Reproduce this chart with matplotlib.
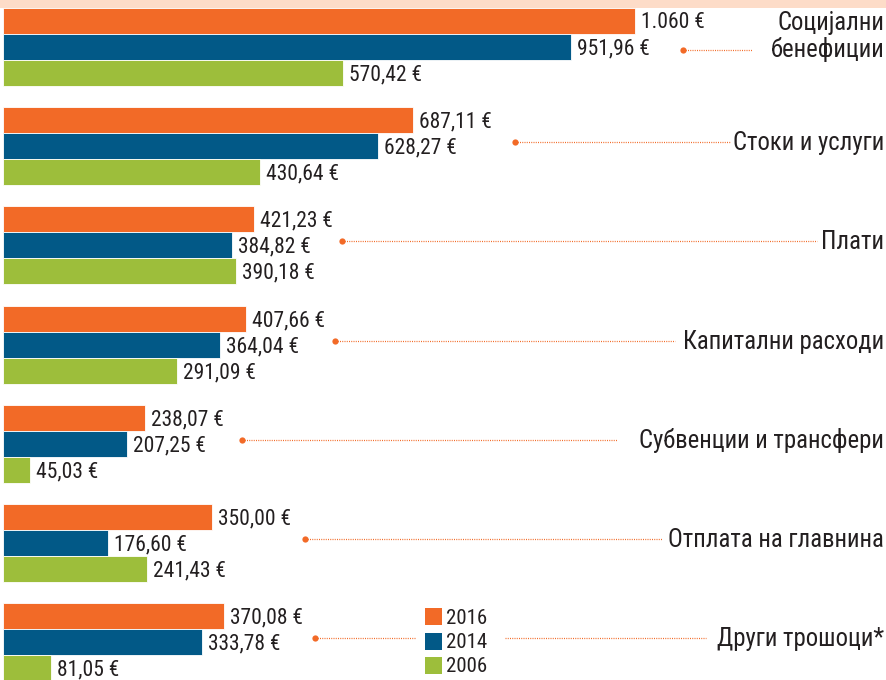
import matplotlib
matplotlib.use("Agg")
import matplotlib.pyplot as plt
from matplotlib.patches import Rectangle

# ── Data ─────────────────────────────────────────────────────────────────────
categories = ["Социјални\nбенефиции", "Стоки и услуги", "Плати", "Капитални расходи",
              "Субвенции и трансфери", "Отплата на главнина", "Други трошоци*"]
years = ["2016", "2014", "2006"]
values_2016 = [1060.00, 687.11, 421.23, 407.66, 238.07, 350.00, 370.08]
values_2014 = [951.96, 628.27, 384.82, 364.04, 207.25, 176.60, 333.78]
values_2006 = [570.42, 430.64, 390.18, 291.09, 45.03, 241.43, 81.05]

# ── Style / layout ───────────────────────────────────────────────────────────
COLORS = ["#F26A27", "#025987", "#9DBE3B"]
TEXT = "#231F20"
PEACH = "#FDDCC8"
FONT = ["Roboto Condensed", "DejaVu Sans"]
W, H = 887, 680
PX = 632 / 1060          # pixels per euro
X0 = 3                   # pixel where bars start
Y0 = 47                  # pixel centre of first blue bar
STEP = 99.2              # pixels between groups
BAR = 26 / STEP          # bar height in group units

# dotted leader lines (pixel x of start dot and end), layout only
lead_start = [683, 515, 342, 335, 242, 305, 315]
lead_end = [752, 731, 817, 675, 617, 662, 706]

plt.rcParams["font.family"] = FONT


def fmt(v):
    if v >= 1000:
        return f"{v:,.0f}".replace(",", ".") + " €"
    return f"{v:.2f}".replace(".", ",") + " €"


def px_x(p):
    return (p - X0) / PX


fig = plt.figure(figsize=(W / 100, H / 100), dpi=100)
fig.patch.set_facecolor("white")
ax = fig.add_axes([0, 0, 1, 1])
ax.set_xlim(px_x(0), px_x(W))
ax.set_ylim((H - Y0) / STEP, -Y0 / STEP)
ax.axis("off")

series = [values_2016, values_2014, values_2006]
for s, (vals, col) in enumerate(zip(series, COLORS)):
    off = (s - 1) * BAR
    for i, v in enumerate(vals):
        ax.barh(i + off, v, height=BAR, color=col, edgecolor="white", linewidth=0.6)
        ax.text(v + 6 / PX, i + off + 2 / STEP, fmt(v), ha="left", va="center",
                fontsize=15.5, color=TEXT)

for i, cat in enumerate(categories):
    ty = i - 10 / STEP if "\n" in cat else i - 3 / STEP
    ax.text(px_x(884), ty, cat, ha="right", va="center", fontsize=17.8,
            color=TEXT, linespacing=1.1, multialignment="right")
    ly = i + 3 / STEP if "\n" in cat else i - 4 / STEP
    if i == len(categories) - 1:
        segs = [(lead_start[i], 415), (505, lead_end[i])]
    else:
        segs = [(lead_start[i], lead_end[i])]
    for a, b in segs:
        ax.plot([px_x(a), px_x(b)], [ly, ly], color=COLORS[0], lw=0.9,
                linestyle=(0, (0.8, 1.0)))
    ax.plot(px_x(lead_start[i]), ly, "o", color=COLORS[0], ms=4.5, mec="none")

# peach band at the top (cut-off title area)
fig.patches.append(Rectangle((0, 1 - 8 / H), 1, 8 / H, transform=fig.transFigure,
                             facecolor=PEACH, edgecolor="none", zorder=5))

# legend drawn by hand
for k, (yr, col) in enumerate(zip(years, COLORS)):
    top = 608 + k * 24.5
    fig.patches.append(Rectangle((425 / W, 1 - (top + 17) / H), 17 / W, 17 / H,
                                 transform=fig.transFigure, facecolor=col,
                                 edgecolor="none"))
    fig.text(446 / W, 1 - (top + 10) / H, yr, ha="left", va="center",
             fontsize=15, color=TEXT)

fig.savefig("out.png", dpi=100, facecolor="white")
